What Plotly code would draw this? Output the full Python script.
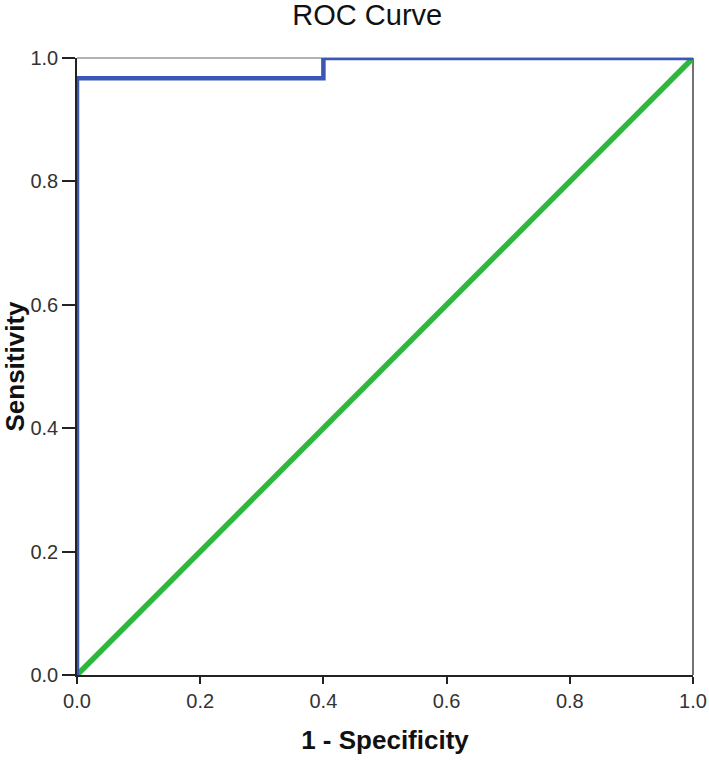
import plotly.graph_objects as go

# ROC step curve (1 - specificity vs sensitivity)
fpr = [0.0, 0.0, 0.4, 0.4, 1.0]
tpr = [0.0, 0.967, 0.967, 1.0, 1.0]

# reference diagonal
ref_x = [0.0, 1.0]
ref_y = [0.0, 1.0]

tick_vals = [0.0, 0.2, 0.4, 0.6, 0.8, 1.0]
tick_text = ["0.0", "0.2", "0.4", "0.6", "0.8", "1.0"]

fig = go.Figure()

fig.add_trace(go.Scatter(
    x=ref_x, y=ref_y,
    mode="lines",
    line=dict(color="#2db83d", width=5.5),
    hoverinfo="skip",
    showlegend=False,
))

fig.add_trace(go.Scatter(
    x=fpr, y=tpr,
    mode="lines",
    line=dict(color="#3a57b5", width=4.5),
    hoverinfo="skip",
    showlegend=False,
))

# plot frame: light grey top, dark right edge
fig.add_shape(type="line", xref="paper", yref="paper", x0=0, x1=1, y0=1, y1=1,
              line=dict(color="#9a9a9a", width=1.5), layer="below")
fig.add_shape(type="line", xref="paper", yref="paper", x0=1, x1=1, y0=0, y1=1,
              line=dict(color="#444444", width=1.5), layer="below")

fig.update_layout(
    width=709, height=761,
    plot_bgcolor="white",
    paper_bgcolor="white",
    margin=dict(l=77, r=16, t=58, b=86),
    font=dict(family="Arial, Liberation Sans, sans-serif", color="#222222"),
    title=dict(
        text="ROC Curve",
        xref="container", x=0.518, xanchor="center",
        yref="container", y=1 - 15 / 761, yanchor="middle",
        font=dict(size=29, color="#111111"),
    ),
    xaxis=dict(
        range=[0, 1],
        automargin=False,
        tickvals=tick_vals, ticktext=tick_text,
        ticks="outside", ticklen=7, tickwidth=1.5, tickcolor="#222222",
        showline=True, linecolor="#222222", linewidth=1.5,
        showgrid=False, zeroline=False,
        tickfont=dict(size=20, color="#333333"),
        title=dict(text="<b>1 - Specificity</b>", font=dict(size=26, color="#111111"), standoff=20),
    ),
    yaxis=dict(
        range=[0, 1],
        automargin=False,
        tickvals=tick_vals, ticktext=tick_text,
        ticks="outside", ticklen=13, tickwidth=1.5, tickcolor="#222222",
        showline=True, linecolor="#222222", linewidth=1.5,
        showgrid=False, zeroline=False,
        tickfont=dict(size=20, color="#333333"),
        title=dict(text="<b>Sensitivity</b>", font=dict(size=26, color="#111111"), standoff=2),
    ),
)

# drop the default 8px page margin so the figure sits at the window origin
fig.write_html("out.html", config={"displayModeBar": False},
               post_script="document.body.style.margin='0';")
